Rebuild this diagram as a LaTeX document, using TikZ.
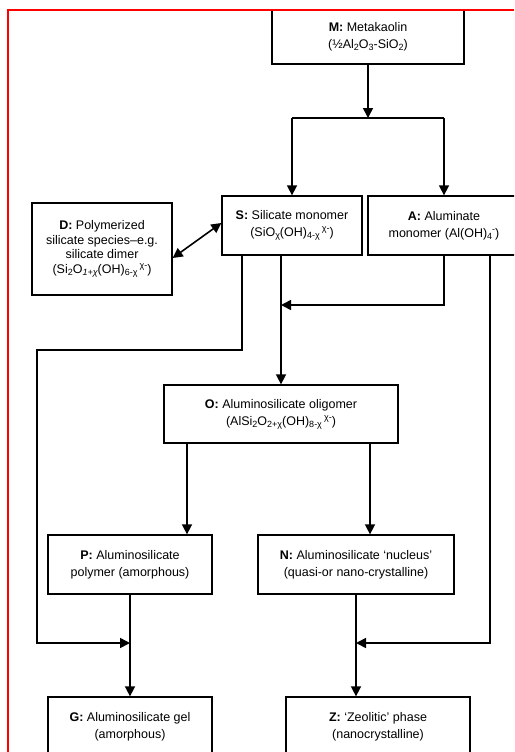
\documentclass[tikz,border=0pt]{standalone}
\usepackage{fontspec}
\setmainfont{Liberation Sans}
\usetikzlibrary{arrows.meta}

\newcommand{\lo}[1]{\raisebox{-0.3ex}{\fontsize{9}{9}\selectfont #1}}
\newcommand{\hi}[1]{\raisebox{0.75ex}{\fontsize{9}{9}\selectfont #1}}

\begin{document}
\begin{tikzpicture}[x=1pt, y=-1pt,
    >={Triangle[length=10pt,width=10pt]},
    box/.style={draw, line width=1.3pt, align=center, inner sep=0pt,
      font=\fontsize{12.5}{17}\selectfont},
    flow/.style={line width=1.6pt}]
  \useasboundingbox (0,0) rectangle (514,752);
  \clip (0,0) rectangle (514,752);

  % Metakaolin
  \node[box, minimum width=192pt, minimum height=54pt] (M) at (368,37)
    {\textbf{M:} Metakaolin\\(½Al\lo{2}O\lo{3}-SiO\lo{2})};

  % Monomers
  \node[box, minimum width=140pt, minimum height=59pt] (S) at (292,225.5)
    {\textbf{S:} Silicate monomer\\(SiO\lo{χ}(OH)\lo{4-χ}\,\hi{χ-})};
  \node[box, minimum width=152pt, minimum height=59pt] (A) at (444,225.5)
    {\textbf{A:} Aluminate\\monomer (Al(OH)\lo{4}\hi{-})};
  \node[box, minimum width=140pt, minimum height=92pt, font=\fontsize{12.5}{14.5}\selectfont] (D) at (102,249)
    {\textbf{D:} Polymerized\\silicate species–e.g.\\silicate dimer\\(Si\lo{2}O\lo{\itshape 1+χ}(OH)\lo{6-χ}\,\hi{χ-})};

  % Oligomer
  \node[box, minimum width=234pt, minimum height=58pt] (O) at (281,414)
    {\textbf{O:} Aluminosilicate oligomer\\(AlSi\lo{2}O\lo{2+χ}(OH)\lo{8-χ}\,\hi{χ-})};

  % Polymer and nucleus
  \node[box, minimum width=164pt, minimum height=59pt] (P) at (130,564.5)
    {\textbf{P:} Aluminosilicate\\polymer (amorphous)};
  \node[box, minimum width=196pt, minimum height=59pt] (N) at (356,564.5)
    {\textbf{N:} Aluminosilicate ‘nucleus’\\(quasi-or nano-crystalline)};

  % End products
  \node[box, minimum width=164pt, minimum height=59pt] (G) at (130,726.5)
    {\textbf{G:} Aluminosilicate gel\\(amorphous)};
  \node[box, minimum width=184pt, minimum height=59pt] (Z) at (378,726.5)
    {\textbf{Z:} ‘Zeolitic’ phase\\(nanocrystalline)};

  % Dissolution
  \coordinate (split) at (368,118);
  \draw[flow, ->] (M) -- (split);
  \draw[flow] (S.north |- split) -- (A.north |- split);
  \draw[flow, ->] (S.north |- split) -- (S.north);
  \draw[flow, ->] (A.north |- split) -- (A.north);
  \draw[flow, <->] ([yshift=-9pt]D.east) -- ([yshift=2.5pt]S.west);

  % Oligomerization
  \coordinate (aJoin) at (281,305);
  \draw[flow, ->] (S.south -| O.north) -- (O.north);
  \draw[flow, ->] (A.south) |- (aJoin);

  % Bypass lines
  \coordinate (sBend) at (37,350);
  \coordinate (gJoin) at (130,643);
  \coordinate (zJoin) at (356,643);
  \draw[flow, ->] ([xshift=-50pt]S.south) |- (sBend) |- (gJoin);
  \draw[flow, ->] ([xshift=46pt]A.south) |- (zJoin);

  % Polymerization and nucleation
  \draw[flow, ->] ([xshift=-94pt]O.south) -- ([xshift=-94pt]O.south |- P.north);
  \draw[flow, ->] ([xshift=89pt]O.south) -- ([xshift=89pt]O.south |- N.north);
  \draw[flow, ->] (P) -- (G);
  \draw[flow, ->] (N.south) -- (N.south |- Z.north);

  % Frame
  \draw[red, line width=1.5pt] (514,10) -- (8,10) -- (8,752);
\end{tikzpicture}
\end{document}
